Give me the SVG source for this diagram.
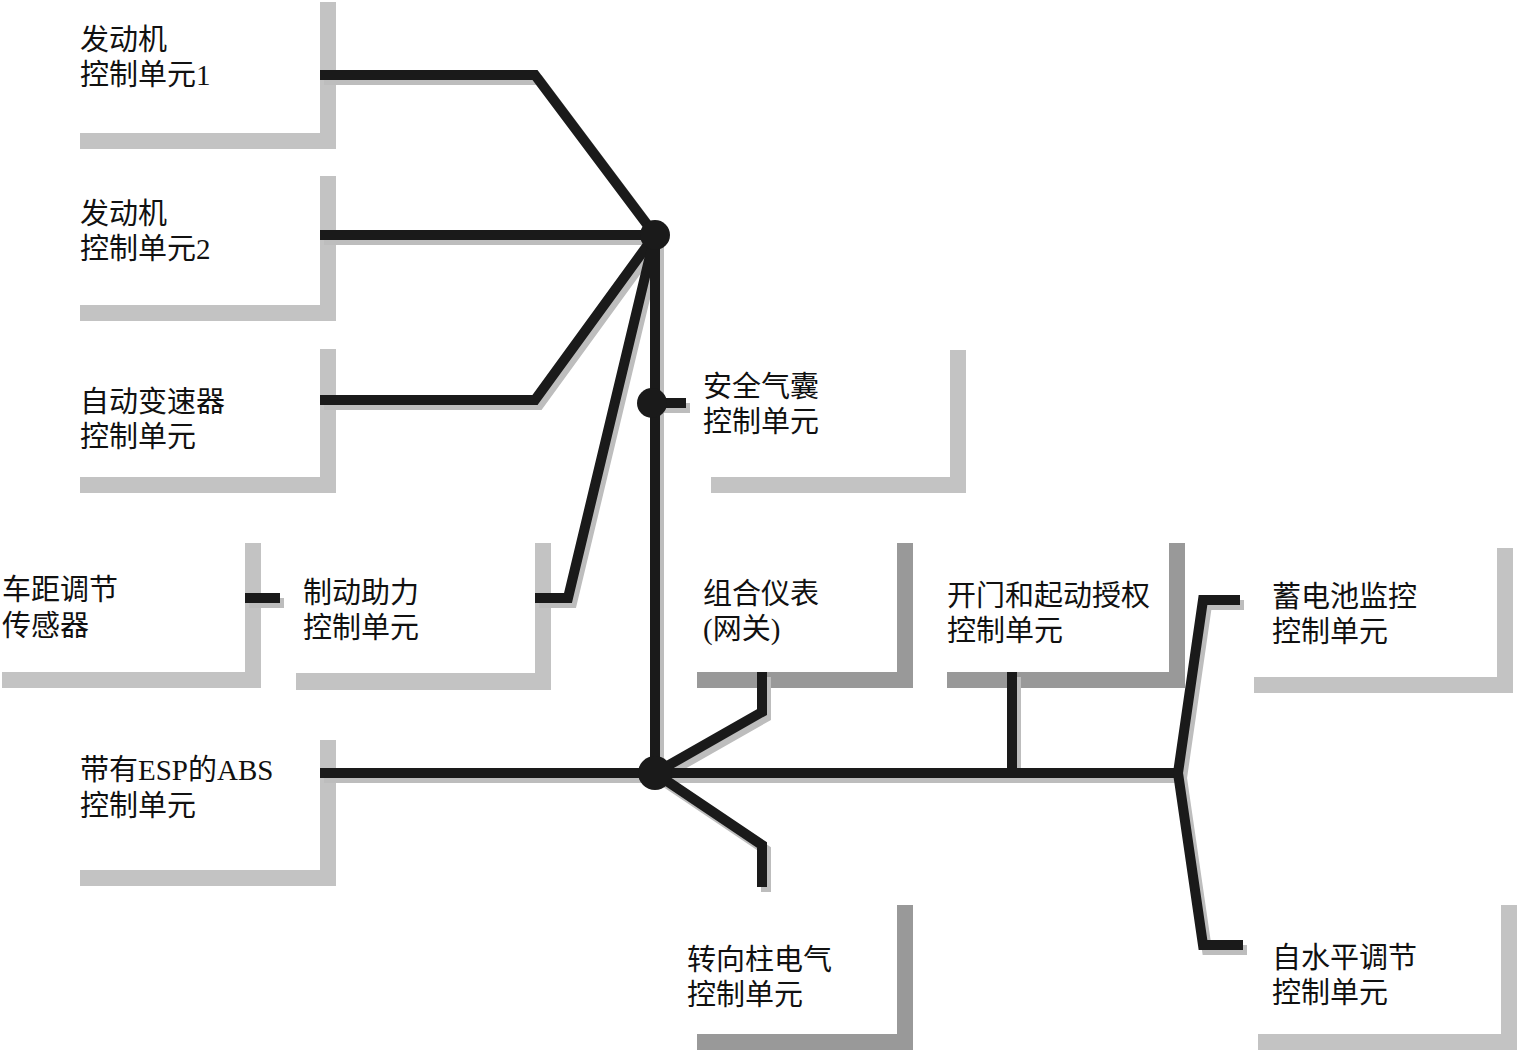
<svg xmlns="http://www.w3.org/2000/svg" width="1525" height="1054" viewBox="0 0 1525 1054">
<style>
.lt{fill:#c3c3c3}
.dk{fill:#999999}
.t{font-family:"Liberation Serif","Noto Sans CJK SC",serif;font-size:29px;fill:#111}
.ln{fill:none;stroke:#1a1a1a;stroke-width:10;stroke-linejoin:miter}
.sh{fill:none;stroke:#bdbdbd;stroke-width:10;stroke-linejoin:miter}
</style>
<rect width="1525" height="1054" fill="#fff"/>
<g id="n1"><path class="lt" d="M320,2 h16 v147 h-256 v-16 h240 z"/><text class="t" x="80" y="50">发动机</text><text class="t" x="80" y="85">控制单元1</text></g>
<g id="n2"><path class="lt" d="M320,176 h16 v145 h-256 v-16 h240 z"/><text class="t" x="80" y="224">发动机</text><text class="t" x="80" y="259">控制单元2</text></g>
<g id="n3"><path class="lt" d="M320,349 h16 v144 h-256 v-16 h240 z"/><text class="t" x="80" y="412">自动变速器</text><text class="t" x="80" y="447">控制单元</text></g>
<g id="n4"><path class="lt" d="M245,543 h16 v145 h-259 v-16 h243 z"/><text class="t" x="2" y="600">车距调节</text><text class="t" x="2" y="636">传感器</text></g>
<g id="n5"><path class="lt" d="M535,543 h16 v147 h-255 v-17 h239 z"/><text class="t" x="303" y="603">制动助力</text><text class="t" x="303" y="638">控制单元</text></g>
<g id="n6"><path class="lt" d="M950,350 h16 v143 h-255 v-16 h239 z"/><text class="t" x="703" y="397">安全气囊</text><text class="t" x="703" y="432">控制单元</text></g>
<g id="n7"><path class="dk" d="M897,543 h16 v145 h-216 v-16 h200 z"/><text class="t" x="703" y="604">组合仪表</text><text class="t" x="703" y="639">(网关)</text></g>
<g id="n8"><path class="dk" d="M1169,543 h16 v145 h-238 v-16 h222 z"/><text class="t" x="947" y="606">开门和起动授权</text><text class="t" x="947" y="641">控制单元</text></g>
<g id="n9"><path class="lt" d="M1497,548 h16 v145 h-259 v-16 h243 z"/><text class="t" x="1272" y="607">蓄电池监控</text><text class="t" x="1272" y="642">控制单元</text></g>
<g id="n10"><path class="lt" d="M320,740 h16 v146 h-256 v-16 h240 z"/><text class="t" x="80" y="780">带有ESP的ABS</text><text class="t" x="80" y="816">控制单元</text></g>
<g id="n11"><path class="dk" d="M897,905 h16 v145 h-216 v-16 h200 z"/><text class="t" x="687" y="970">转向柱电气</text><text class="t" x="687" y="1005">控制单元</text></g>
<g id="n12"><path class="lt" d="M1501,905 h16 v145 h-259 v-16 h243 z"/><text class="t" x="1272" y="968">自水平调节</text><text class="t" x="1272" y="1003">控制单元</text></g>
<g id="connectors">
<g transform="translate(4,5)">
<path class="sh" d="M320,75 H535 L655,235"/>
<path class="sh" d="M320,235 H655"/>
<path class="sh" d="M320,400 H535 L655,235"/>
<path class="sh" d="M535,598 H568 L655,235"/>
<path class="sh" d="M245,598 H280"/>
<path class="sh" d="M655,235 V773"/>
<path class="sh" d="M652,403 H686"/>
<path class="sh" d="M320,773 H1178"/>
<path class="sh" d="M762,672 V712 L655,773"/>
<path class="sh" d="M655,773 L762,845 V887"/>
<path class="sh" d="M1012,672 V773"/>
<path class="sh" d="M1240,600 H1203 L1178,773 L1203,945 H1243"/>
</g>
<path class="ln" d="M320,75 H535 L655,235"/>
<path class="ln" d="M320,235 H655"/>
<path class="ln" d="M320,400 H535 L655,235"/>
<path class="ln" d="M535,598 H568 L655,235"/>
<path class="ln" d="M245,598 H280"/>
<path class="ln" d="M655,235 V773"/>
<path class="ln" d="M652,403 H686"/>
<path class="ln" d="M320,773 H1178"/>
<path class="ln" d="M762,672 V712 L655,773"/>
<path class="ln" d="M655,773 L762,845 V887"/>
<path class="ln" d="M1012,672 V773"/>
<path class="ln" d="M1240,600 H1203 L1178,773 L1203,945 H1243"/>
<circle cx="655" cy="235" r="15" fill="#1a1a1a"/>
<circle cx="652" cy="403" r="15" fill="#1a1a1a"/>
<circle cx="655" cy="773" r="17" fill="#1a1a1a"/>
</g>
</svg>
